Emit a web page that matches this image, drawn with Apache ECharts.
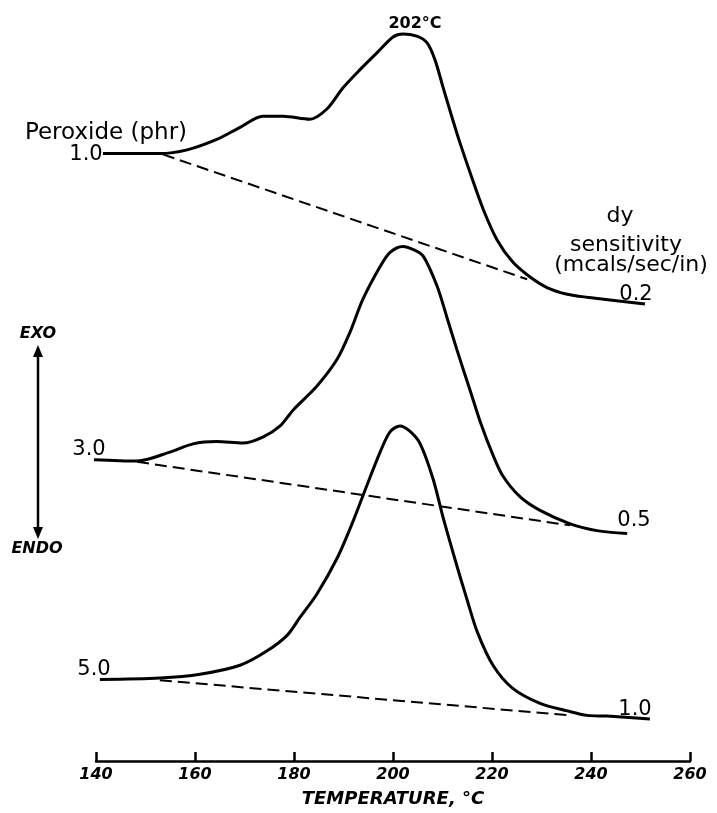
<!DOCTYPE html>
<html>
<head>
<meta charset="utf-8">
<script src="https://cdn.jsdelivr.net/npm/echarts@6/dist/echarts.min.js"></script>
<style>
html, body { margin: 0; padding: 0; background: #fff; }
#chart { width: 717px; height: 813px; }
</style>
</head>
<body>
<div id="chart"></div>
<script>
// x ticks (temperature, °C)
var xTicks = [140, 160, 180, 200, 220, 240, 260];

// 1.0 phr peroxide curve (signal in arbitrary units, offset upward)
var curve1T = [141.4, 152.9, 158.4, 164.4, 169.1, 173.7, 177.8, 183.2, 186.7, 189.9, 193.3, 196.8, 200.0, 202.0, 204.8, 206.9, 208.5, 210.1, 211.9, 213.5, 215.6, 218.2, 221.0, 224.2, 227.7, 231.1, 235.2, 239.2, 250.9];
var curve1Y = [81.2, 81.2, 81.7, 83.1, 84.7, 86.2, 86.2, 85.8, 87.2, 90.0, 92.4, 94.7, 96.8, 97.2, 96.9, 96.0, 93.7, 90.1, 86.1, 82.7, 78.6, 73.8, 69.7, 66.7, 64.7, 63.3, 62.4, 62.0, 61.1];
var base1T = [153.5, 227.1];
var base1Y = [81.1, 64.4];

// 3.0 phr
var curve3T = [139.2, 148.3, 154.9, 159.6, 164.4, 169.7, 173.7, 177.2, 179.8, 184.6, 188.7, 191.3, 193.9, 197.4, 199.4, 202.0, 204.0, 206.1, 208.9, 210.9, 212.9, 215.6, 217.6, 220.2, 222.2, 225.7, 229.7, 235.8, 241.2, 247.3];
var curve3Y = [40.3, 40.1, 41.3, 42.4, 42.7, 42.5, 43.3, 44.8, 46.9, 50.1, 53.7, 57.3, 61.7, 66.1, 68.0, 68.8, 68.4, 67.5, 63.5, 59.3, 55.0, 49.5, 45.4, 40.9, 38.1, 35.3, 33.5, 31.7, 30.8, 30.4];
var base3T = [148.3, 235.8];
var base3Y = [40.0, 31.5];

// 5.0 phr
var curve5T = [140.8, 152.9, 161.0, 169.1, 174.5, 178.6, 181.2, 184.6, 188.7, 191.9, 194.7, 197.4, 199.4, 201.4, 203.4, 205.5, 208.1, 210.1, 212.9, 214.9, 217.0, 220.2, 224.2, 229.7, 235.2, 239.2, 243.2, 251.9];
var curve5Y = [10.9, 11.1, 11.6, 12.8, 14.7, 16.8, 19.2, 22.3, 27.1, 32.0, 36.8, 41.3, 44.0, 44.8, 44.1, 42.4, 37.7, 32.6, 26.1, 21.7, 17.3, 12.8, 9.7, 7.7, 6.7, 6.1, 6.0, 5.6];
var base5T = [152.9, 235.8];
var base5Y = [10.8, 6.1];

function pairs(t, y) {
    return t.map(function (v, i) { return [v, y[i]]; });
}

var FONT = '"DejaVu Sans", sans-serif';

function curve(t, y) {
    return {
        type: 'line',
        data: pairs(t, y),
        smooth: 0.3,
        showSymbol: false,
        clip: false,
        lineStyle: { color: '#000', width: 3 },
        silent: true
    };
}
function baseline(t, y) {
    return {
        type: 'line',
        data: pairs(t, y),
        showSymbol: false,
        clip: false,
        lineStyle: { color: '#000', width: 2, type: [12, 6] },
        silent: true
    };
}
function label(text, x, y, size, style, align) {
    return {
        type: 'text',
        x: x,
        y: y,
        style: {
            text: text,
            font: (style || '') + ' ' + size + 'px ' + FONT,
            fill: '#000',
            textAlign: align || 'center',
            textVerticalAlign: 'middle'
        }
    };
}

var chart = echarts.init(document.getElementById('chart'));
chart.setOption({
    backgroundColor: '#fff',
    animation: false,
    grid: { left: 96, right: 27, top: 13, bottom: 50 },
    xAxis: {
        type: 'value',
        min: xTicks[0],
        max: xTicks[xTicks.length - 1],
        interval: xTicks[1] - xTicks[0],
        name: 'TEMPERATURE, °C',
        nameLocation: 'middle',
        nameGap: 29,
        nameTextStyle: { fontFamily: FONT, fontStyle: 'italic', fontWeight: 'bold', fontSize: 18, color: '#000' },
        axisLine: { lineStyle: { color: '#000', width: 2.5 } },
        axisTick: { inside: true, length: 9, lineStyle: { color: '#000', width: 2.5 } },
        axisLabel: { fontFamily: FONT, fontStyle: 'italic', fontWeight: 'bold', fontSize: 16, color: '#000', margin: 6 },
        splitLine: { show: false }
    },
    yAxis: { type: 'value', min: 0, max: 100, show: false },
    series: [
        curve(curve1T, curve1Y), baseline(base1T, base1Y),
        curve(curve3T, curve3Y), baseline(base3T, base3Y),
        curve(curve5T, curve5Y), baseline(base5T, base5Y)
    ],
    graphic: [
        label('Peroxide (phr)', 106, 133, 23, '', 'center'),
        label('1.0', 86, 155, 21),
        label('202°C', 415, 24, 16, 'bold'),
        label('dy', 620, 216, 22),
        label('sensitivity', 626, 245, 22),
        label('(mcals/sec/in)', 631, 265, 22),
        label('0.2', 636, 295, 21),
        label('3.0', 89, 450, 21),
        label('0.5', 634, 521, 21),
        label('5.0', 94, 670, 21),
        label('1.0', 635, 710, 21),
        label('EXO', 38, 334, 16, 'italic bold'),
        label('ENDO', 37, 549, 16, 'italic bold'),
        {
            type: 'line',
            shape: { x1: 38, y1: 352, x2: 38, y2: 532 },
            style: { stroke: '#000', lineWidth: 2.5 }
        },
        {
            type: 'polygon',
            shape: { points: [[38, 345], [33, 357], [43, 357]] },
            style: { fill: '#000' }
        },
        {
            type: 'polygon',
            shape: { points: [[38, 539], [33, 527], [43, 527]] },
            style: { fill: '#000' }
        }
    ]
});
</script>
</body>
</html>
